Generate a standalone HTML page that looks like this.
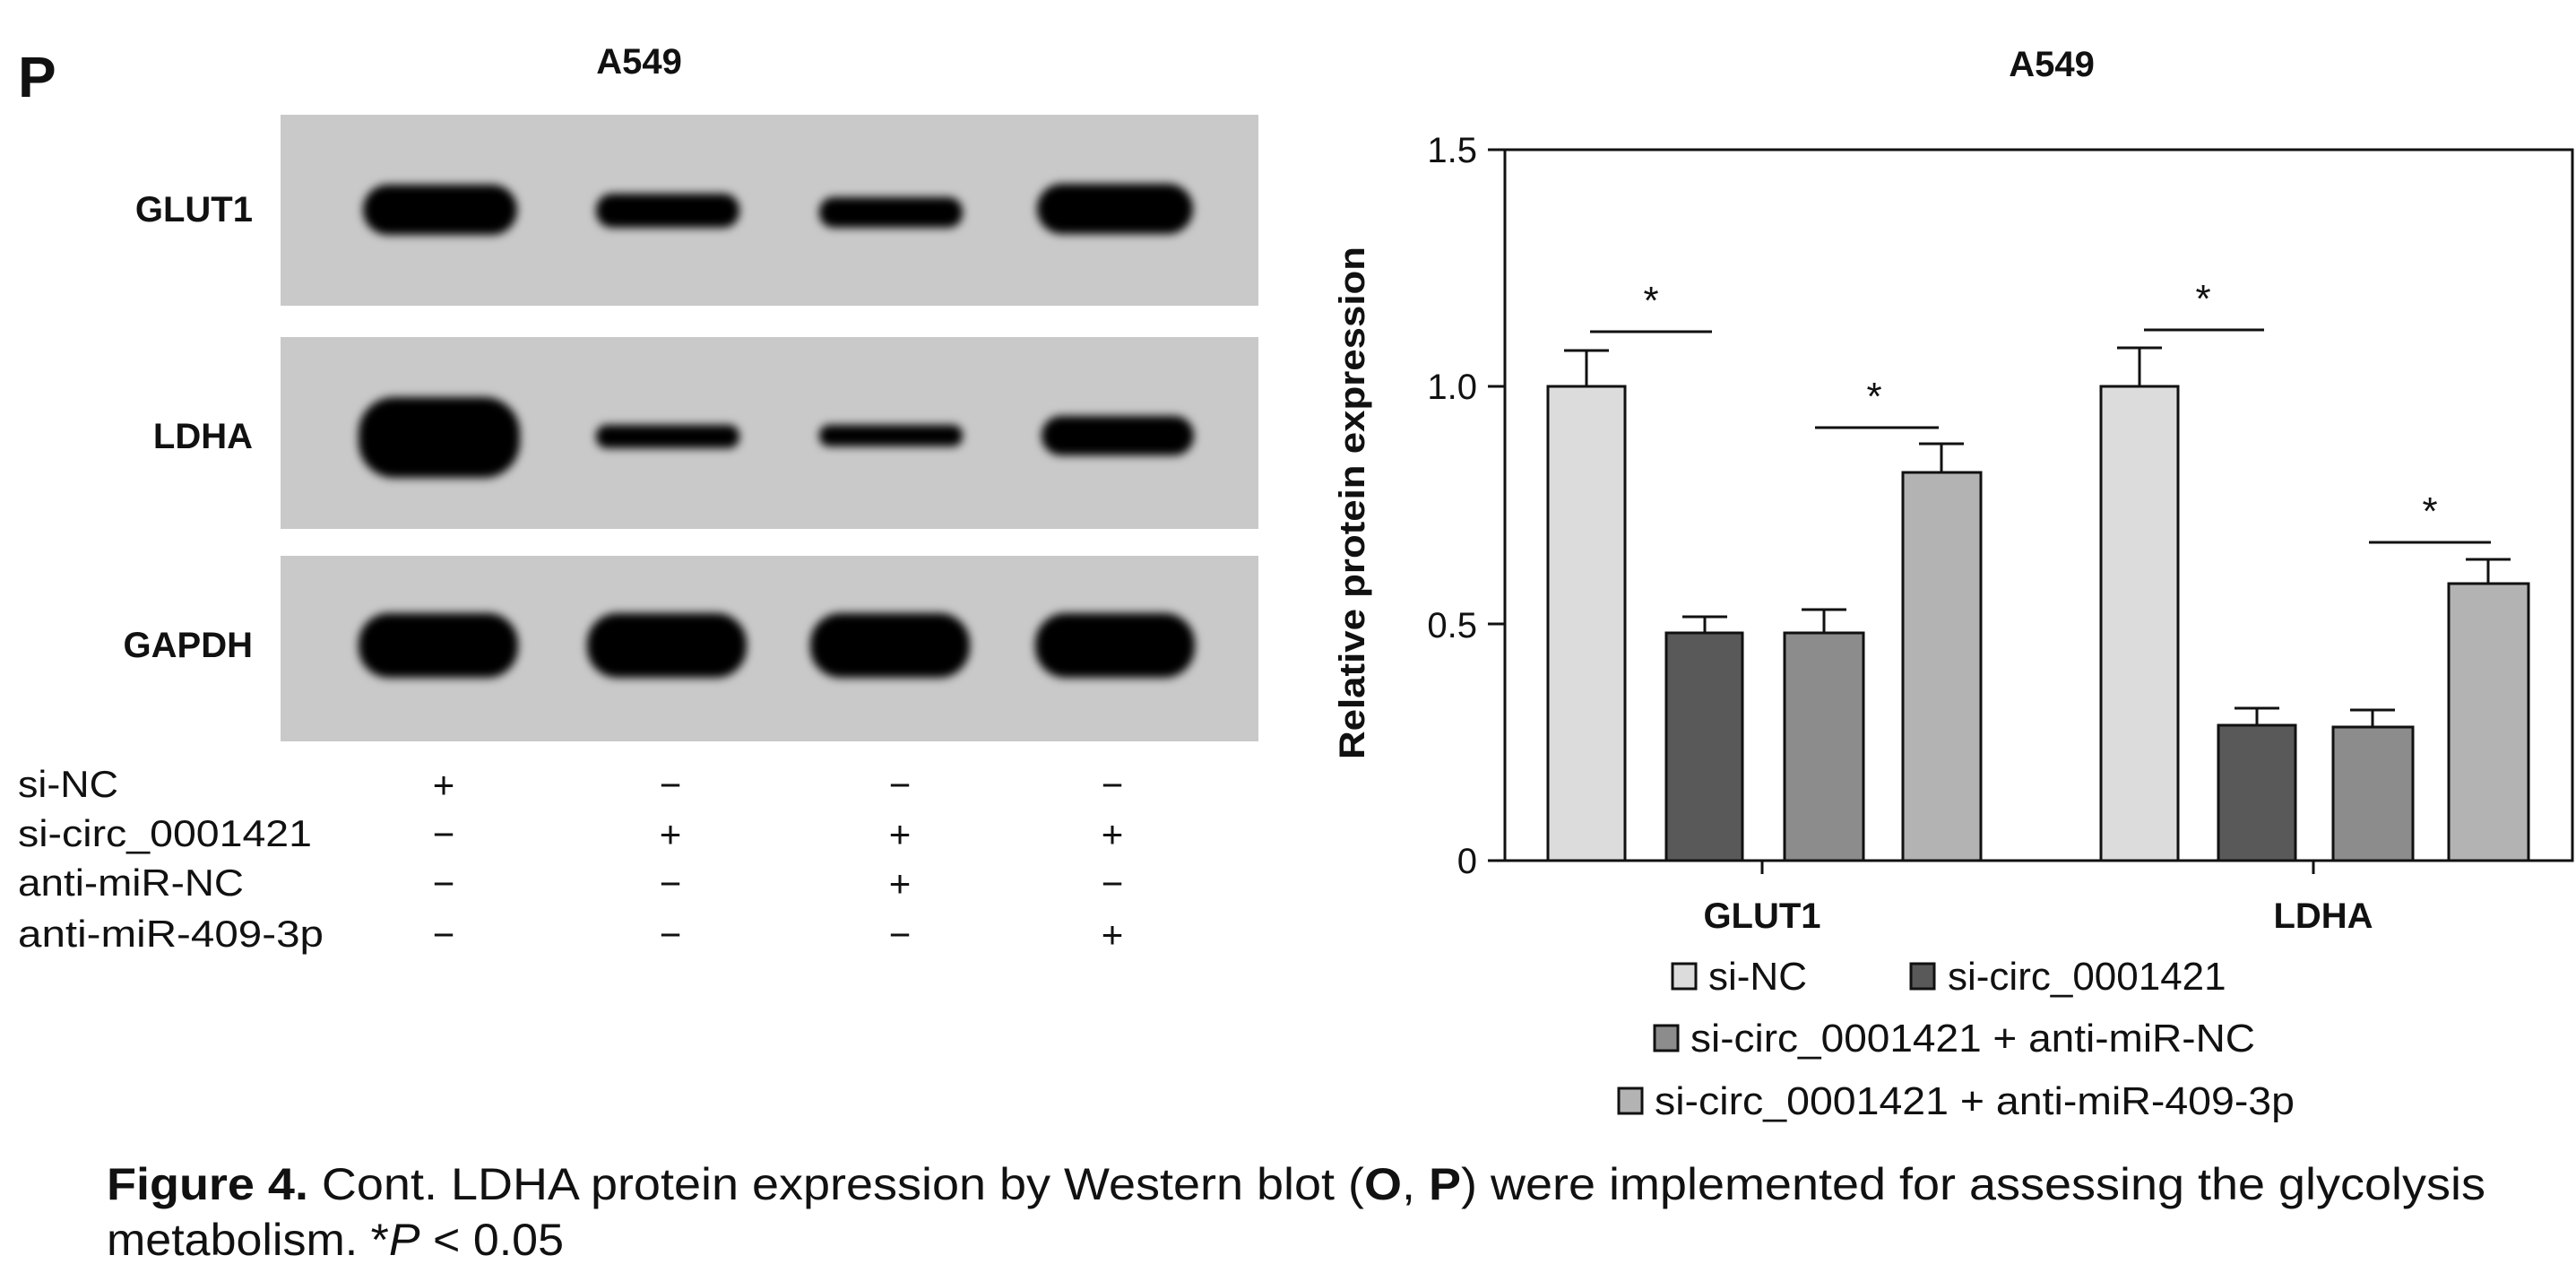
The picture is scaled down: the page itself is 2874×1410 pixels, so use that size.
<!DOCTYPE html>
<html><head><meta charset="utf-8"><style>
html,body{margin:0;padding:0;background:#fff;}
svg{display:block;}
text{font-family:"Liberation Sans",sans-serif;fill:#111;}
</style></head><body>
<svg width="2874" height="1410" viewBox="0 0 2874 1410" xmlns="http://www.w3.org/2000/svg">
<defs>
<filter id="bl" x="-30%" y="-60%" width="160%" height="220%"><feGaussianBlur stdDeviation="5"/></filter>
</defs>
<rect width="2874" height="1410" fill="#fff"/>
<!-- Left panel -->
<text x="20" y="108" font-size="64" font-weight="bold">P</text>
<text x="713" y="82" font-size="40" font-weight="bold" text-anchor="middle">A549</text>
<rect x="313" y="128" width="1091" height="213" fill="#c9c9c9"/>
<rect x="313" y="376" width="1091" height="214" fill="#c9c9c9"/>
<rect x="313" y="620" width="1091" height="207" fill="#c9c9c9"/>
<g fill="#050505" filter="url(#bl)">
<rect x="405" y="206" width="172" height="56" rx="28"/>
<rect x="665" y="216" width="160" height="38" rx="18"/>
<rect x="914" y="220" width="160" height="34" rx="16"/>
<rect x="1157" y="205" width="174" height="56" rx="28"/>
<rect x="400" y="443" width="180" height="90" rx="40"/>
<rect x="665" y="474" width="160" height="26" rx="12"/>
<rect x="914" y="474" width="160" height="24" rx="11"/>
<rect x="1162" y="464" width="170" height="44" rx="22"/>
<rect x="400" y="684" width="178" height="72" rx="34"/>
<rect x="655" y="684" width="178" height="72" rx="34"/>
<rect x="904" y="684" width="178" height="72" rx="34"/>
<rect x="1155" y="684" width="178" height="72" rx="34"/>
</g>
<g font-size="40" font-weight="bold" text-anchor="end">
<text x="282" y="247">GLUT1</text>
<text x="282" y="500">LDHA</text>
<text x="282" y="733">GAPDH</text>
</g>
<g font-size="42">
<text x="20" y="889" textLength="112" lengthAdjust="spacingAndGlyphs">si-NC</text>
<text x="20" y="944" textLength="328" lengthAdjust="spacingAndGlyphs">si-circ_0001421</text>
<text x="20" y="999" textLength="252" lengthAdjust="spacingAndGlyphs">anti-miR-NC</text>
<text x="20" y="1056" textLength="341" lengthAdjust="spacingAndGlyphs">anti-miR-409-3p</text>
</g>
<g font-size="42" text-anchor="middle">
<text x="495" y="890">+</text><text x="748" y="890">−</text><text x="1004" y="890">−</text><text x="1241" y="890">−</text>
<text x="495" y="945">−</text><text x="748" y="945">+</text><text x="1004" y="945">+</text><text x="1241" y="945">+</text>
<text x="495" y="1000">−</text><text x="748" y="1000">−</text><text x="1004" y="1000">+</text><text x="1241" y="1000">−</text>
<text x="495" y="1057">−</text><text x="748" y="1057">−</text><text x="1004" y="1057">−</text><text x="1241" y="1057">+</text>
</g>
<!-- Chart -->
<text x="2289" y="85" font-size="40" font-weight="bold" text-anchor="middle">A549</text>
<g font-size="40" text-anchor="end">
<text x="1648" y="181">1.5</text>
<text x="1648" y="445">1.0</text>
<text x="1648" y="711">0.5</text>
<text x="1648" y="974">0</text>
</g>
<text transform="translate(1522,561) rotate(-90)" font-size="40" font-weight="bold" text-anchor="middle" textLength="572" lengthAdjust="spacingAndGlyphs">Relative protein expression</text>
<g stroke="#111" stroke-width="3" fill="none">
<rect x="1679" y="167" width="1191" height="793"/>
<line x1="1660" y1="167" x2="1679" y2="167"/>
<line x1="1660" y1="431" x2="1679" y2="431"/>
<line x1="1660" y1="696" x2="1679" y2="696"/>
<line x1="1660" y1="960" x2="1679" y2="960"/>
<line x1="1966" y1="960" x2="1966" y2="975"/>
<line x1="2581" y1="960" x2="2581" y2="975"/>
</g>
<g stroke="#111" stroke-width="3">
<line x1="1770" y1="431" x2="1770" y2="391"/><line x1="1745" y1="391" x2="1795" y2="391"/>
<line x1="1902" y1="706" x2="1902" y2="688"/><line x1="1877" y1="688" x2="1927" y2="688"/>
<line x1="2035" y1="706" x2="2035" y2="680"/><line x1="2010" y1="680" x2="2060" y2="680"/>
<line x1="2166" y1="527" x2="2166" y2="495"/><line x1="2141" y1="495" x2="2191" y2="495"/>
<line x1="2387" y1="431" x2="2387" y2="388"/><line x1="2362" y1="388" x2="2412" y2="388"/>
<line x1="2518" y1="809" x2="2518" y2="790"/><line x1="2493" y1="790" x2="2543" y2="790"/>
<line x1="2647" y1="811" x2="2647" y2="792"/><line x1="2622" y1="792" x2="2672" y2="792"/>
<line x1="2776" y1="651" x2="2776" y2="624"/><line x1="2751" y1="624" x2="2801" y2="624"/>
<line x1="1774" y1="370" x2="1910" y2="370"/>
<line x1="2025" y1="477" x2="2163" y2="477"/>
<line x1="2392" y1="368" x2="2526" y2="368"/>
<line x1="2643" y1="605" x2="2779" y2="605"/>
</g>
<g stroke="#111" stroke-width="3">
<rect x="1727" y="431" width="86" height="529" fill="#dcdcdc"/>
<rect x="1859" y="706" width="85" height="254" fill="#595959"/>
<rect x="1991" y="706" width="88" height="254" fill="#8c8c8c"/>
<rect x="2123" y="527" width="87" height="433" fill="#b3b3b3"/>
<rect x="2344" y="431" width="86" height="529" fill="#dcdcdc"/>
<rect x="2475" y="809" width="86" height="151" fill="#595959"/>
<rect x="2603" y="811" width="89" height="149" fill="#8c8c8c"/>
<rect x="2732" y="651" width="89" height="309" fill="#b3b3b3"/>
</g>
<g font-size="44" text-anchor="middle">
<text x="1842" y="350">*</text>
<text x="2091" y="457">*</text>
<text x="2458" y="348">*</text>
<text x="2711" y="585">*</text>
</g>
<g font-size="40" font-weight="bold" text-anchor="middle">
<text x="1966" y="1035">GLUT1</text>
<text x="2592" y="1035">LDHA</text>
</g>
<g stroke="#111" stroke-width="3">
<rect x="1866" y="1075" width="26" height="28" fill="#dcdcdc"/>
<rect x="2132" y="1075" width="26" height="28" fill="#595959"/>
<rect x="1846" y="1144" width="26" height="28" fill="#8c8c8c"/>
<rect x="1806" y="1214" width="26" height="28" fill="#b3b3b3"/>
</g>
<g font-size="44">
<text x="1906" y="1104">si-NC</text>
<text x="2173" y="1104">si-circ_0001421</text>
<text x="1886" y="1173" textLength="630" lengthAdjust="spacingAndGlyphs">si-circ_0001421 + anti-miR-NC</text>
<text x="1846" y="1243" textLength="714" lengthAdjust="spacingAndGlyphs">si-circ_0001421 + anti-miR-409-3p</text>
</g>
<!-- caption -->
<text x="119" y="1338" font-size="50" textLength="2654" lengthAdjust="spacingAndGlyphs"><tspan font-weight="bold">Figure 4.</tspan> Cont. LDHA protein expression by Western blot (<tspan font-weight="bold">O</tspan>, <tspan font-weight="bold">P</tspan>) were implemented for assessing the glycolysis</text>
<text x="119" y="1400" font-size="50" textLength="510" lengthAdjust="spacingAndGlyphs">metabolism. *<tspan font-style="italic">P</tspan> &lt; 0.05</text>
</svg>
</body></html>
